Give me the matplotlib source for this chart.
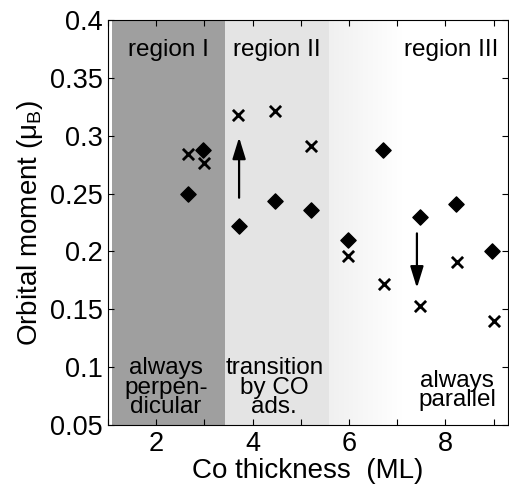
import matplotlib
matplotlib.use("Agg")
import matplotlib.pyplot as plt
import numpy as np
from matplotlib.colors import LinearSegmentedColormap

plt.rcParams['font.family'] = ['Liberation Sans', 'DejaVu Sans']

# Data
dia_x = [2.67, 2.97, 3.72, 4.46, 5.22, 5.98, 6.71, 7.47, 8.22, 8.97]
dia_y = [0.250, 0.288, 0.222, 0.244, 0.236, 0.210, 0.288, 0.230, 0.241, 0.200]
cross_x = [2.66, 2.99, 3.70, 4.46, 5.21, 5.98, 6.73, 7.48, 8.24, 9.00]
cross_y = [0.284, 0.276, 0.318, 0.321, 0.291, 0.196, 0.172, 0.153, 0.191, 0.140]

region_bounds = [1.08, 3.43, 5.59, 7.1, 9.3]
region_labels = ["region I", "region II", "region III"]
xticks = [1, 2, 3, 4, 5, 6, 7, 8, 9]
xticklabels = ["", "2", "", "4", "", "6", "", "8", ""]
yticks = [0.05, 0.1, 0.15, 0.2, 0.25, 0.3, 0.35, 0.4]
yticklabels = ["0.05", "0.1", "0.15", "0.2", "0.25", "0.3", "0.35", "0.4"]

fig = plt.figure(figsize=(5.09, 4.86), dpi=100)
ax = fig.add_axes([108/509, 1-425/486, 400/509, 405/486])

# shading
ax.axvspan(region_bounds[0], region_bounds[1], color='#9f9f9f', lw=0, zorder=0)
ax.axvspan(region_bounds[1], region_bounds[2], color='#e4e4e4', lw=0, zorder=0)
grad = np.linspace(0, 1, 100).reshape(1, -1)
cm = LinearSegmentedColormap.from_list('f', ['#f0f0f0', '#ffffff'])
ax.imshow(grad, cmap=cm, aspect='auto',
          extent=[region_bounds[2], region_bounds[3], 0.05, 0.4], zorder=0)
ax.set_xlim(region_bounds[0], region_bounds[-1])
ax.set_ylim(0.05, 0.4)

ax.scatter(dia_x, dia_y, marker='D', s=60, color='black', zorder=3)
ax.scatter(cross_x, cross_y, marker='x', s=65, color='black', linewidths=2.0, zorder=3)

# arrows
ax.annotate('', xy=(3.72, 0.301), xytext=(3.72, 0.244),
            arrowprops=dict(arrowstyle='-|>,head_width=0.4,head_length=1.3', color='black', lw=1.6))
ax.annotate('', xy=(7.41, 0.166), xytext=(7.41, 0.218),
            arrowprops=dict(arrowstyle='-|>,head_width=0.4,head_length=1.3', color='black', lw=1.6))

fs = 17.5
ax.text(2.25, 0.374, region_labels[0], ha='center', va='center', fontsize=fs)
ax.text(4.5, 0.374, region_labels[1], ha='center', va='center', fontsize=fs)
ax.text(8.12, 0.374, region_labels[2], ha='center', va='center', fontsize=fs)
ax.text(2.2, 0.056, "always\nperpen-\ndicular", ha='center', va='bottom', fontsize=fs, linespacing=0.85)
ax.text(4.45, 0.056, "transition\nby CO\nads.", ha='center', va='bottom', fontsize=fs, linespacing=0.85)
ax.text(8.25, 0.062, "always\nparallel", ha='center', va='bottom', fontsize=fs, linespacing=0.85)

ax.set_xticks(xticks)
ax.set_xticklabels(xticklabels)
ax.set_yticks(yticks)
ax.set_yticklabels(yticklabels)
ax.tick_params(direction='in', top=True, right=True, labelsize=19.5, length=4, pad=4)
ax.set_xlabel("Co thickness  (ML)", fontsize=20, labelpad=1)
ax.set_ylabel(r"Orbital moment ($\mathregular{\mu_B}$)", fontsize=20, labelpad=3)

fig.savefig("out.png", dpi=100)
